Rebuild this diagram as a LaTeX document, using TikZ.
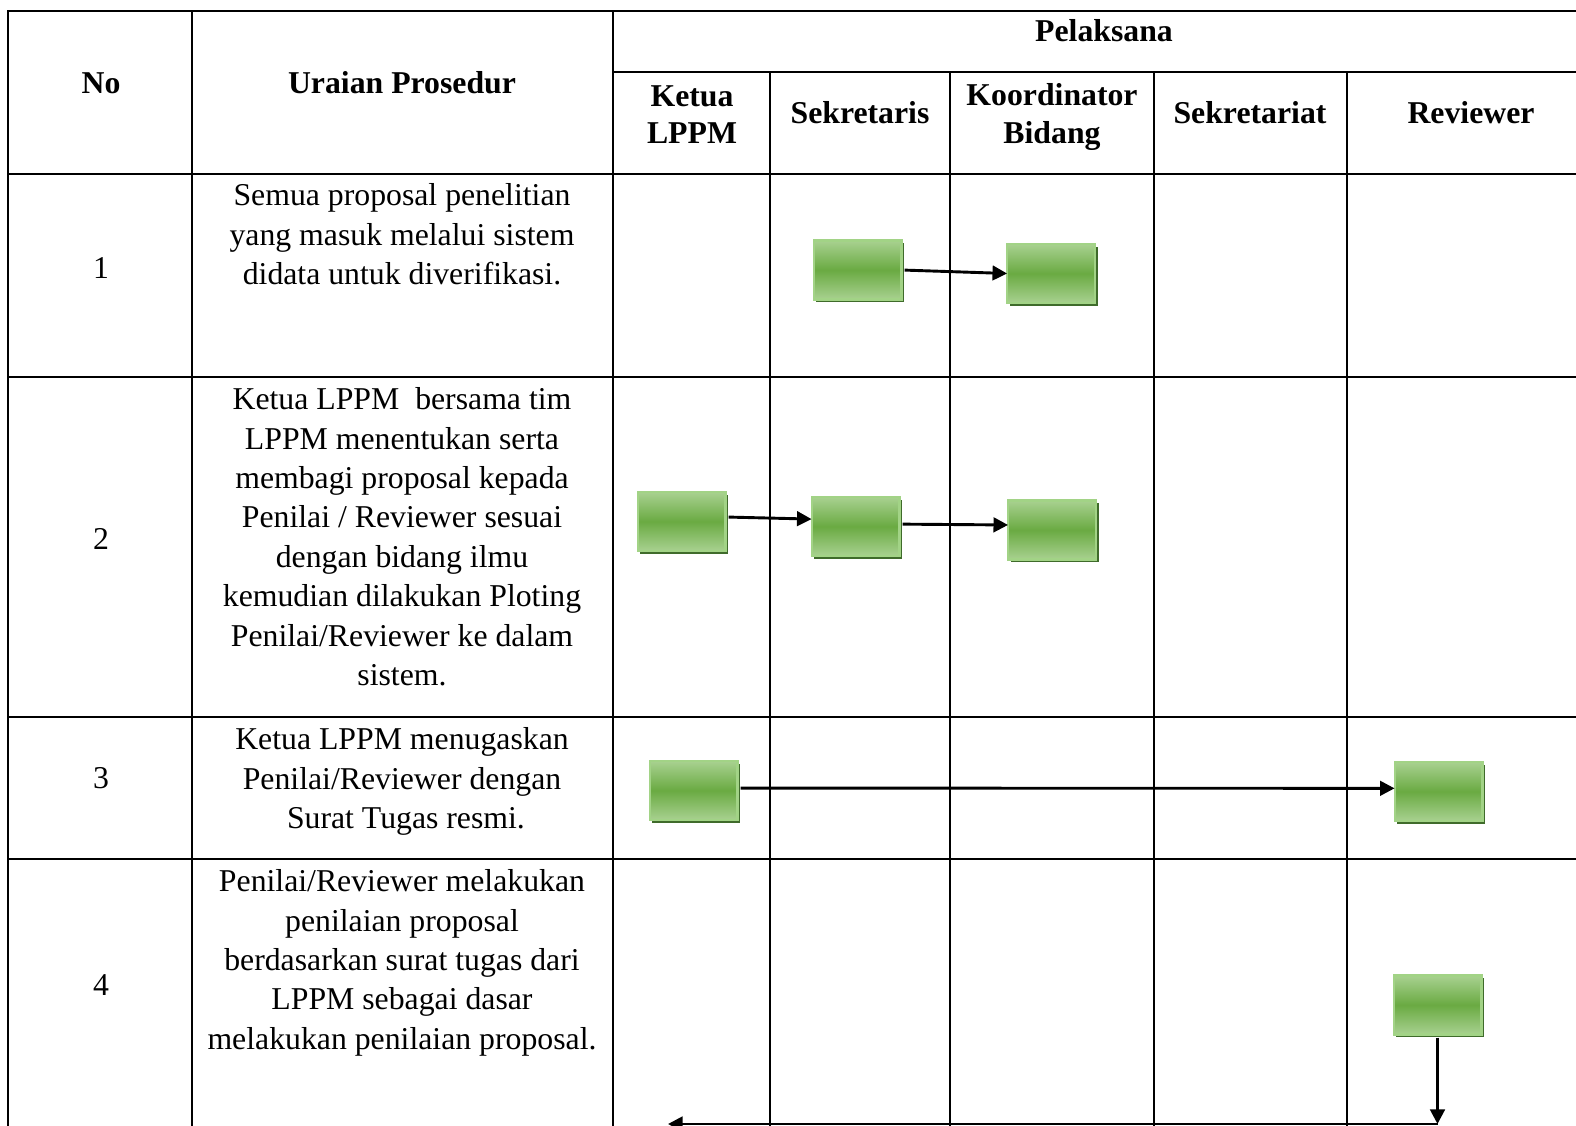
\documentclass[tikz,border=0pt]{standalone}
\usepackage{fontspec}
\setmainfont{Liberation Serif}
\usetikzlibrary{arrows.meta,shadows}
\definecolor{gtop}{HTML}{A8D190}
\definecolor{gmid}{HTML}{6AAA42}
\definecolor{gedge}{HTML}{A2D386}
\definecolor{gshadow}{HTML}{3F6B2B}
\begin{document}
\begin{tikzpicture}[x=0.3778pt,y=-0.3778pt,
 grid/.style={line width=1pt, black, line cap=rect},
 txt/.style={align=center, anchor=north, inner sep=0pt, font=\fontsize{12}{14.9}\selectfont, execute at begin node={\rule{0pt}{9pt}}},
 hdr/.style={txt, font=\fontsize{12}{14.2}\selectfont\bfseries},
 task/.style={rectangle, minimum width=33.2pt, minimum height=22.3pt, inner sep=0pt, outer sep=0pt, draw=gedge, line width=0.8pt, top color=gtop, bottom color=gtop, middle color=gmid, drop shadow={shadow xshift=1.1pt, shadow yshift=-1.1pt, fill=gshadow, opacity=1}},
 flow/.style={line width=1.1pt, -{Triangle[length=5.5pt,width=5.5pt]}}
]
\useasboundingbox (0,0) rectangle (1576,1126);
\clip (0,0) rectangle (1576,1126);
% table grid
\draw[grid] (8,11) -- (1600,11);
\draw[grid] (613,72) -- (1600,72);
\draw[grid] (8,174) -- (1600,174);
\draw[grid] (8,377) -- (1600,377);
\draw[grid] (8,717) -- (1600,717);
\draw[grid] (8,859) -- (1600,859);
\draw[grid] (8,11) -- (8,1140);
\draw[grid] (192,11) -- (192,1140);
\draw[grid] (613,11) -- (613,1140);
\draw[grid] (770,72) -- (770,1140);
\draw[grid] (950,72) -- (950,1140);
\draw[grid] (1154,72) -- (1154,1140);
\draw[grid] (1347,72) -- (1347,1140);
% headers
\node[hdr] (hNo) at (101,69) {No};
\node[hdr] (hUr) at (402,69) {Uraian Prosedur};
\node[hdr] (hPel) at (1104,17) {Pelaksana};
\node[hdr] (hKet) at (692,85) {Ketua\\LPPM};
\node[hdr] (hSek) at (860,99) {Sekretaris};
\node[hdr] (hKoo) at (1052,83) {Koordinator\\Bidang};
\node[hdr] (hSat) at (1250,99) {Sekretariat};
\node[hdr] (hRev) at (1471,99) {Reviewer};
% numbers
\node[txt] (n1) at (101,254) {1};
\node[txt] (n2) at (101,525) {2};
\node[txt] (n3) at (101,764) {3};
\node[txt] (n4) at (101,971) {4};
% descriptions
\node[txt] (d1) at (402,183) {Semua proposal penelitian\\yang masuk melalui sistem\\didata untuk diverifikasi.};
\node[txt] (d2) at (402,387) {Ketua LPPM\ \ bersama tim\\LPPM menentukan serta\\membagi proposal kepada\\Penilai / Reviewer sesuai\\dengan bidang ilmu\\kemudian dilakukan Ploting\\Penilai/Reviewer ke dalam\\sistem.};
\node[txt] (d3) at (402,727) {Ketua LPPM menugaskan\\Penilai/Reviewer dengan\\\ Surat Tugas resmi.};
\node[txt] (d4) at (402,869) {Penilai/Reviewer melakukan\\penilaian proposal\\berdasarkan surat tugas dari\\LPPM sebagai dasar\\melakukan penilaian proposal.};
% task boxes
\node[task] (A) at (857.5,270) {};
\node[task] (B) at (1051,273.5) {};
\node[task] (C) at (681.5,521.5) {};
\node[task] (D) at (855.5,526.5) {};
\node[task] (E) at (1052,530) {};
\node[task] (F) at (693.5,790.5) {};
\node[task] (G) at (1438.5,791.5) {};
\node[task] (H) at (1437.5,1005) {};
% connectors
\draw[flow, shorten <=1.2pt] (A.east) -- (B.west);
\draw[flow, shorten <=1.2pt] ([yshift=1.7pt]C.east) -- ([yshift=2.8pt]D.west);
\draw[flow, shorten <=1.2pt] ([yshift=0.9pt]D.east) -- ([yshift=1.9pt]E.west);
\draw[flow, shorten <=1.2pt] ([yshift=0.9pt]F.east) -- ([yshift=1.2pt]G.west);
\coordinate (turn) at (1437.5,1124);
\coordinate (back) at (668,1124);
\draw[flow, shorten <=1.2pt] (H.south) -- (turn);
\draw[flow] (turn) -- (back);
\end{tikzpicture}
\end{document}
